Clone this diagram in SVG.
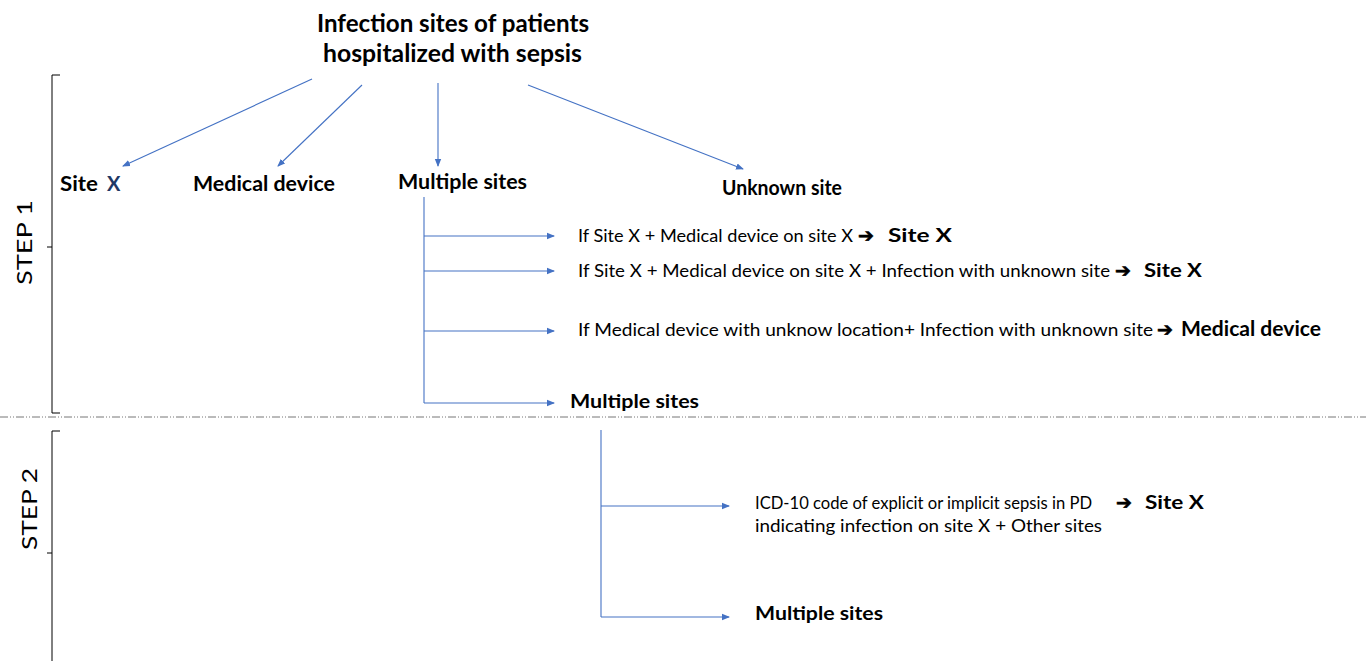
<svg xmlns="http://www.w3.org/2000/svg" width="1370" height="661" viewBox="0 0 1370 661">
<defs>
<marker id="ah" markerWidth="8" markerHeight="8" refX="7" refY="4" orient="auto" markerUnits="userSpaceOnUse">
<path d="M0,0.8 L8,4 L0,7.2 z" fill="#4472C4"/>
</marker>
<style>
.t{font-family:Lato,"Open Sans","Liberation Sans",sans-serif;fill:#000}
.b{font-weight:bold}
.c{stroke:#4472C4;stroke-width:1.1;fill:none}
.cm{stroke:#4472C4;stroke-width:1.1;fill:none;marker-end:url(#ah)}
.br{stroke:#000;stroke-width:1;fill:none}
.ar{font-family:"DejaVu Sans",sans-serif;font-weight:bold;fill:#000;stroke:#000;stroke-width:0.6}
</style>
</defs>
<rect width="1370" height="661" fill="#fff"/>

<g id="title">
<text class="t b" x="317" y="32" font-size="24" textLength="272" lengthAdjust="spacingAndGlyphs">Infection sites of patients</text>
<text class="t b" x="323" y="62" font-size="24" textLength="259" lengthAdjust="spacingAndGlyphs">hospitalized with sepsis</text>
</g>

<g id="site-x"><text class="t b" x="60" y="191" font-size="20" textLength="38" lengthAdjust="spacingAndGlyphs">Site</text><text class="t b" x="107" y="191" font-size="20" style="fill:#1F3864">X</text></g>
<g id="medical-device"><text class="t b" x="193" y="191" font-size="20" textLength="142" lengthAdjust="spacingAndGlyphs">Medical device</text></g>
<g id="multiple-sites"><text class="t b" x="398" y="189" font-size="20" textLength="129" lengthAdjust="spacingAndGlyphs">Multiple sites</text></g>
<g id="unknown-site"><text class="t b" x="722" y="195" font-size="20" textLength="120" lengthAdjust="spacingAndGlyphs">Unknown site</text></g>

<g id="rule1"><text class="t" x="578" y="242" font-size="17.5" textLength="275" lengthAdjust="spacingAndGlyphs">If Site X +  Medical device on site X</text><text class="ar" x="858" y="242" font-size="19">➔</text><text class="t b" x="888" y="242" font-size="19" textLength="64" lengthAdjust="spacingAndGlyphs">Site  X</text></g>
<g id="rule2"><text class="t" x="578" y="277" font-size="17.5" textLength="532" lengthAdjust="spacingAndGlyphs">If Site X +  Medical device on site X + Infection with unknown site</text><text class="ar" x="1115" y="277" font-size="19">➔</text><text class="t b" x="1144" y="277" font-size="19" textLength="58" lengthAdjust="spacingAndGlyphs">Site  X</text></g>
<g id="rule3"><text class="t" x="578" y="336" font-size="17.5" textLength="575" lengthAdjust="spacingAndGlyphs">If Medical device with unknow location+ Infection with unknown site</text><text class="ar" x="1157" y="336" font-size="19">➔</text><text class="t b" x="1181" y="336" font-size="20" textLength="140" lengthAdjust="spacingAndGlyphs">Medical device</text></g>
<g id="multiple-sites-1"><text class="t b" x="570" y="408" font-size="19" textLength="129" lengthAdjust="spacingAndGlyphs">Multiple sites</text></g>

<g id="rule4"><text class="t" x="755" y="509" font-size="17" textLength="337" lengthAdjust="spacingAndGlyphs">ICD-10 code of explicit or implicit sepsis in PD</text><text class="ar" x="1116" y="509" font-size="19">➔</text><text class="t b" x="1145" y="509" font-size="19" textLength="59" lengthAdjust="spacingAndGlyphs">Site  X</text>
<text class="t" x="755" y="532" font-size="17" textLength="347" lengthAdjust="spacingAndGlyphs">indicating infection on site X  + Other sites</text></g>
<g id="multiple-sites-2"><text class="t b" x="755" y="620" font-size="19" textLength="128" lengthAdjust="spacingAndGlyphs">Multiple sites</text></g>

<g id="step1">
<path class="br" d="M60,75 L52,75 L52,413 L60,413 M52,247 L47,247"/>
<text class="t" font-size="21" transform="translate(32,285) rotate(-90)" textLength="85" lengthAdjust="spacingAndGlyphs">STEP 1</text>
</g>
<g id="step2">
<path class="br" d="M60,431 L52,431 L52,661 M52,553 L47,553"/>
<text class="t" font-size="21" transform="translate(37,550) rotate(-90)" textLength="82" lengthAdjust="spacingAndGlyphs">STEP 2</text>
</g>

<g id="separator">
<line x1="0" y1="417" x2="1366" y2="417" stroke="#777" stroke-width="1" stroke-dasharray="8,2,1,2,1,2"/>
</g>

<g id="connectors">
<line class="cm" x1="312" y1="79" x2="123" y2="166"/>
<line class="cm" x1="362" y1="85" x2="278" y2="166"/>
<line class="cm" x1="438" y1="83" x2="438" y2="166"/>
<line class="cm" x1="528" y1="85" x2="743" y2="169"/>
<line class="c" x1="424" y1="197" x2="424" y2="403"/>
<line class="cm" x1="424" y1="236" x2="554" y2="236"/>
<line class="cm" x1="424" y1="271" x2="554" y2="271"/>
<line class="cm" x1="424" y1="331" x2="554" y2="331"/>
<line class="cm" x1="424" y1="403" x2="554" y2="403"/>
<line class="c" x1="601" y1="430" x2="601" y2="617"/>
<line class="cm" x1="601" y1="506" x2="729" y2="506"/>
<line class="cm" x1="601" y1="617" x2="729" y2="617"/>
</g>
</svg>
